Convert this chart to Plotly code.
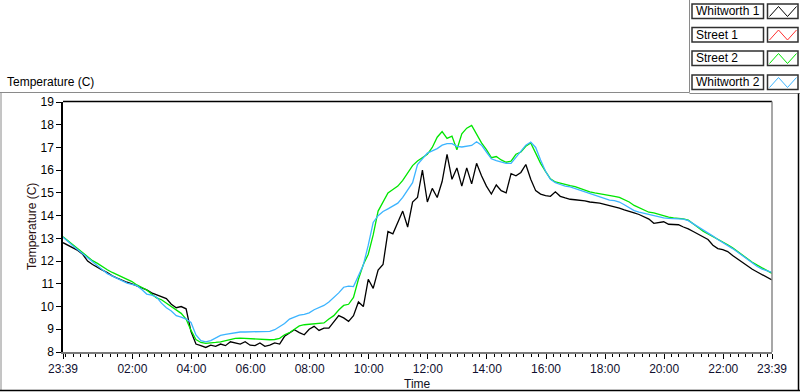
import pandas as pd
import plotly.graph_objects as go

# ---------------- data (10-minute samples, 23:39 -> 23:39 next day) ----------------
start_time = "2000-01-01 23:39"
n_points = 145

whitworth1 = [
    12.81, 12.70, 12.60, 12.47, 12.30, 12.00,
    11.85, 11.72, 11.60, 11.50, 11.35, 11.25,
    11.15, 11.07, 11.00, 10.92, 10.82, 10.73,
    10.60, 10.52, 10.45, 10.35, 10.10, 9.95,
    10.00, 9.90, 8.90, 8.35, 8.28, 8.20,
    8.30, 8.25, 8.35, 8.28, 8.45, 8.40,
    8.35, 8.45, 8.30, 8.28, 8.40, 8.25,
    8.30, 8.40, 8.35, 8.69, 8.85, 8.98,
    8.85, 8.76, 9.00, 9.13, 8.95, 9.05,
    9.05, 9.30, 9.60, 9.50, 9.35, 9.60,
    10.20, 10.00, 11.20, 10.80, 11.60, 11.85,
    13.30, 13.20, 13.70, 14.20, 13.50, 14.60,
    14.80, 16.00, 14.60, 15.20, 14.80, 15.50,
    16.70, 15.60, 16.10, 15.30, 16.10, 15.40,
    16.30, 15.75, 15.30, 14.95, 15.35, 15.10,
    15.00, 15.85, 15.75, 15.90, 16.25, 15.60,
    15.10, 14.95, 14.88, 14.85, 15.05, 14.85,
    14.78, 14.72, 14.70, 14.68, 14.65, 14.60,
    14.58, 14.55, 14.50, 14.45, 14.40, 14.33,
    14.25, 14.20, 14.12, 14.05, 13.95, 13.85,
    13.66, 13.70, 13.73, 13.62, 13.62, 13.60,
    13.50, 13.42, 13.30, 13.18, 13.08, 12.95,
    12.70, 12.55, 12.50, 12.42, 12.25, 12.10,
    11.93, 11.78, 11.64, 11.52, 11.40, 11.28,
    11.17,
]

street1 = []  # listed in the legend, no visible data

street2 = [
    13.07, 12.90, 12.72, 12.55, 12.38, 12.20,
    12.02, 11.90, 11.75, 11.62, 11.50, 11.40,
    11.30, 11.20, 11.10, 10.95, 10.85, 10.73,
    10.55, 10.38, 10.30, 10.15, 10.00, 9.85,
    9.70, 9.45, 8.95, 8.55, 8.42, 8.38,
    8.39, 8.42, 8.45, 8.50, 8.55, 8.60,
    8.61, 8.60, 8.58, 8.55, 8.55, 8.54,
    8.54, 8.55, 8.60, 8.76, 8.85, 9.00,
    9.15, 9.20, 9.22, 9.25, 9.27, 9.28,
    9.45, 9.60, 9.85, 10.05, 10.10, 10.40,
    11.20, 11.85, 12.30, 13.15, 14.20, 14.60,
    15.00, 15.15, 15.30, 15.55, 15.90, 16.20,
    16.40, 16.55, 16.70, 17.00, 17.45, 17.70,
    17.40, 17.50, 16.90, 17.60, 17.85, 17.97,
    17.60, 17.20, 16.90, 16.55, 16.60, 16.45,
    16.35, 16.40, 16.70, 16.80, 17.05, 17.20,
    16.75, 16.30, 15.95, 15.62, 15.48, 15.42,
    15.36, 15.32, 15.28, 15.20, 15.12, 15.05,
    15.00, 14.97, 14.93, 14.90, 14.85, 14.80,
    14.70, 14.60, 14.45, 14.35, 14.25, 14.15,
    14.12, 14.05, 13.98, 13.93, 13.90, 13.88,
    13.86, 13.80, 13.62, 13.48, 13.32, 13.20,
    13.10, 12.97, 12.85, 12.72, 12.58, 12.42,
    12.25, 12.10, 11.95, 11.82, 11.70, 11.58,
    11.46,
]

whitworth2 = [
    13.05, 12.85, 12.67, 12.50, 12.32, 12.12,
    11.95, 11.80, 11.62, 11.45, 11.35, 11.25,
    11.12, 11.03, 10.98, 10.92, 10.75, 10.55,
    10.50, 10.42, 10.15, 9.95, 9.80, 9.60,
    9.53, 9.45, 9.30, 8.75, 8.50, 8.45,
    8.50, 8.60, 8.73, 8.78, 8.82, 8.86,
    8.88, 8.88, 8.88, 8.90, 8.90, 8.91,
    8.91, 8.98, 9.10, 9.25, 9.45, 9.55,
    9.62, 9.66, 9.72, 9.86, 9.95, 10.05,
    10.20, 10.40, 10.60, 10.85, 10.90, 10.88,
    11.39, 11.83, 12.70, 13.70, 14.00, 14.18,
    14.30, 14.42, 14.55, 14.80, 15.10, 15.45,
    16.25, 16.50, 16.75, 16.85, 16.95, 17.10,
    17.17, 17.17, 17.05, 17.02, 17.05, 17.09,
    17.25, 17.10, 16.80, 16.50, 16.42, 16.35,
    16.30, 16.30, 16.55, 16.85, 17.10, 17.24,
    17.00, 16.45, 15.95, 15.60, 15.45, 15.37,
    15.30, 15.27, 15.20, 15.12, 15.05, 14.97,
    14.90, 14.85, 14.75, 14.68, 14.66, 14.60,
    14.48, 14.33, 14.22, 14.15, 14.10, 14.02,
    13.97, 13.93, 13.90, 13.88, 13.87, 13.86,
    13.85, 13.78, 13.65, 13.52, 13.38, 13.25,
    13.10, 12.95, 12.82, 12.70, 12.55, 12.40,
    12.23, 12.07, 11.92, 11.76, 11.65, 11.58,
    11.50,
]

series_names = ["Whitworth 1", "Street 1", "Street 2", "Whitworth 2"]
series_colors = ["#000000", "#FF3030", "#00E600", "#3CB4FF"]

x_range = ["2000-01-01 23:39", "2000-01-02 23:39"]
tick_vals = ["2000-01-01 23:39", "2000-01-02 02:00", "2000-01-02 04:00", "2000-01-02 06:00",
             "2000-01-02 08:00", "2000-01-02 10:00", "2000-01-02 12:00", "2000-01-02 14:00",
             "2000-01-02 16:00", "2000-01-02 18:00", "2000-01-02 20:00", "2000-01-02 22:00",
             "2000-01-02 23:39"]
tick_text = ["23:39", "02:00", "04:00", "06:00", "08:00", "10:00", "12:00", "14:00",
             "16:00", "18:00", "20:00", "22:00", "23:39"]
y_ticks = list(range(8, 20))

times = pd.date_range(start_time, periods=n_points, freq="10min")

# ---------------- layout geometry (pixels) ----------------
W, H = 800, 392
PL, PR, PT, PB = 63, 772, 102, 352  # plot area


def px(x):
    return (x - PL) / (PR - PL)


def py(y):
    return (PB - y) / (PB - PT)


FONT = "Liberation Sans, Arial, sans-serif"

fig = go.Figure()
all_series = [whitworth1, street1, street2, whitworth2]
for name, col, vals in zip(series_names, series_colors, all_series):
    fig.add_trace(go.Scatter(
        x=times[:len(vals)], y=vals, mode="lines", name=name,
        line=dict(color=col, width=1.3), showlegend=False,
    ))

shapes = []


def line(x0, y0, x1, y1, color, width=1):
    shapes.append(dict(type="line", xref="paper", yref="paper",
                       x0=px(x0), y0=py(y0), x1=px(x1), y1=py(y1),
                       line=dict(color=color, width=width), layer="above"))


# outer frame
line(0, 92.5, 689.5, 92.5, "#8a8a8a")
line(689.5, 0, 689.5, 92.5, "#8a8a8a")
line(689.5, 93.5, 800, 93.5, "#8a8a8a")
line(1, 92.5, 1, 390.5, "#8a8a8a")
line(0, 390.5, 800, 390.5, "#000000", 1.5)
line(798.5, 93.5, 798.5, 390.5, "#000000", 1.5)
# plot box
line(PL, 101.5, PR, 101.5, "#000000", 1.5)
line(PR, 101.5, PR, PB, "#8a8a8a", 1.5)

# legend boxes
annotations = []
row_tops = [4, 27.5, 51, 75]
for name, col, top in zip(series_names, series_colors, row_tops):
    bot = top + 14.5
    shapes.append(dict(type="rect", xref="paper", yref="paper",
                       x0=px(692), x1=px(763.5), y0=py(top), y1=py(bot),
                       line=dict(color="#303030", width=1.5), fillcolor="white"))
    shapes.append(dict(type="rect", xref="paper", yref="paper",
                       x0=px(767.5), x1=px(798), y0=py(top), y1=py(bot),
                       line=dict(color="#303030", width=1.5), fillcolor="white"))
    zx = [769.5, 778.5, 787.5, 796.5]
    zy = [bot - 2, top + 2.5, bot - 2, top + 2.5]
    path = "M " + " L ".join(f"{px(a)},{py(b)}" for a, b in zip(zx, zy))
    shapes.append(dict(type="path", xref="paper", yref="paper", path=path,
                       line=dict(color=col, width=1)))
    annotations.append(dict(text=name, xref="paper", yref="paper",
                            x=px(694), y=py((top + bot) / 2), xanchor="left", yanchor="middle",
                            showarrow=False, font=dict(family=FONT, size=12, color="black")))

annotations.append(dict(text="Temperature (C)", xref="paper", yref="paper",
                        x=px(5), y=py(82), xanchor="left", yanchor="middle",
                        showarrow=False, font=dict(family=FONT, size=12, color="black")))
annotations.append(dict(text="Temperature (C)", xref="paper", yref="paper",
                        x=px(32), y=py(227), xanchor="center", yanchor="middle", textangle=-90,
                        showarrow=False, font=dict(family=FONT, size=12, color="#2a1010")))
annotations.append(dict(text="Time", xref="paper", yref="paper",
                        x=px(417), y=py(384), xanchor="center", yanchor="middle",
                        showarrow=False, font=dict(family=FONT, size=12, color="#101020")))

fig.update_layout(
    width=W, height=H,
    margin=dict(l=PL, r=W - PR, t=PT, b=H - PB, pad=0),
    paper_bgcolor="white", plot_bgcolor="white",
    shapes=shapes, annotations=annotations,
    xaxis=dict(type="date", range=x_range, tickmode="array", tickvals=tick_vals, ticktext=tick_text,
               ticks="outside", ticklen=5, tickcolor="black", showgrid=False, zeroline=False,
               showline=True, linecolor="#7a7a7a", linewidth=1.5,
               tickfont=dict(family=FONT, size=12, color="#101030"),
               minor=dict(tickmode="linear", tick0="2000-01-01 23:45", dtick=900000,
                          ticks="outside", ticklen=3, tickcolor="black", showgrid=False)),
    yaxis=dict(range=[8, 19], tickmode="array", tickvals=y_ticks, ticks="outside", ticklen=5,
               tickcolor="black", showgrid=False, zeroline=False, showline=True,
               linecolor="black", linewidth=1.5,
               tickfont=dict(family=FONT, size=12, color="black")),
    showlegend=False,
)

fig.write_html(
    "out.html",
    config={"displayModeBar": False},
    post_script="document.body.style.margin='0';document.body.style.overflow='hidden';",
)
